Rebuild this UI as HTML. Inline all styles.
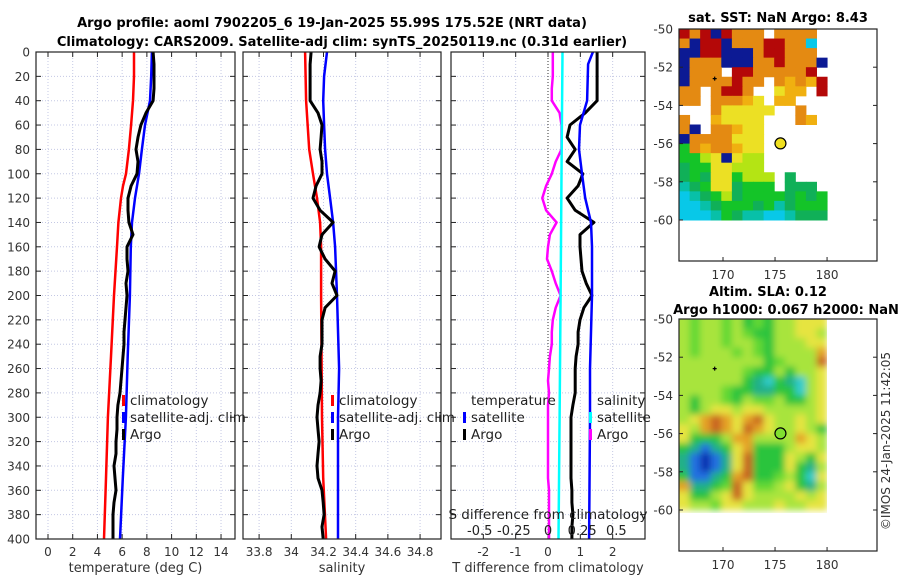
<!DOCTYPE html>
<html><head><meta charset="utf-8"><style>
html,body{margin:0;padding:0;background:#fff;}
svg{display:block;font-family:"DejaVu Sans","Liberation Sans",sans-serif;}
</style></head><body>
<svg id="fig" width="900" height="580" viewBox="0 0 900 580" xmlns="http://www.w3.org/2000/svg">
<defs>
<filter id="soft" x="-5%" y="-5%" width="110%" height="110%"><feGaussianBlur stdDeviation="3.5"/></filter>
<clipPath id="slaclip"><rect x="679" y="319" width="148" height="194"/></clipPath>
</defs>
<text x="332" y="27" font-size="13" font-weight="bold" text-anchor="middle">Argo profile: aoml 7902205_6 19-Jan-2025 55.99S 175.52E (NRT data)</text>
<text x="342" y="46" font-size="13" font-weight="bold" text-anchor="middle">Climatology: CARS2009. Satellite-adj clim: synTS_20250119.nc (0.31d earlier)</text>
<text x="778" y="22" font-size="13" font-weight="bold" text-anchor="middle">sat. SST: NaN Argo: 8.43</text>
<text x="768" y="296" font-size="13" font-weight="bold" text-anchor="middle">Altim. SLA: 0.12</text>
<text x="786" y="314" font-size="13" font-weight="bold" text-anchor="middle">Argo h1000: 0.067 h2000: NaN</text>
<text transform="translate(890,441) rotate(-90)" font-size="12" fill="#333" text-anchor="middle">©IMOS 24-Jan-2025 11:42:05</text>
</svg>
<script>
// ---------- data ----------
const climDepth = [0,20,40,60,80,100,110,120,140,160,200,250,300,350,400];
const climTemp = [6.96,6.96,6.88,6.72,6.55,6.31,6.07,5.91,5.7,5.58,5.34,5.1,4.85,4.69,4.53];
const satTemp = [8.41,8.35,8.25,7.85,7.6,7.36,7.2,7.04,6.8,6.7,6.63,6.45,6.3,6.05,5.83];
const argoDepth = [0,10,20,30,40,50,60,70,80,90,100,110,120,130,140,150,160,170,180,190,200,210,220,230,240,250,260,270,280,290,300,310,320,330,340,350,360,370,380,390,400];
const argoTemp = [8.5,8.58,8.58,8.58,8.5,7.93,7.52,7.28,7.12,7.28,7.2,6.72,6.47,6.47,6.55,6.88,6.39,6.39,6.47,6.31,6.39,6.31,6.23,6.15,6.15,6.07,5.99,5.91,5.83,5.66,5.58,5.58,5.5,5.5,5.34,5.42,5.5,5.34,5.26,5.26,5.26];
const climSalDepth = [0,40,80,100,120,140,160,200,300,350,400];
const climSal = [34.086,34.092,34.111,34.135,34.16,34.179,34.185,34.185,34.191,34.198,34.216];
const satSalDepth = [0,20,40,60,80,100,120,140,160,200,260,300,400];
const satSal = [34.222,34.204,34.198,34.204,34.21,34.222,34.241,34.26,34.272,34.284,34.297,34.29,34.29];
const argoSal = [34.123,34.117,34.117,34.117,34.117,34.166,34.191,34.185,34.179,34.191,34.191,34.154,34.135,34.179,34.26,34.191,34.173,34.21,34.272,34.253,34.284,34.21,34.191,34.191,34.191,34.179,34.179,34.185,34.179,34.166,34.16,34.166,34.173,34.166,34.16,34.166,34.191,34.198,34.204,34.191,34.198];
const satTDiffDepth = [0,10,40,60,80,100,120,140,160,200,260,300,400];
const satTDiff = [1.39,1.24,1.21,0.99,0.96,1.05,1.15,1.33,1.36,1.36,1.3,1.3,1.27];
const argoTDiff = [1.52,1.52,1.52,1.52,1.52,1.15,0.68,0.59,0.84,0.59,1.08,0.93,0.59,0.84,1.42,0.99,0.99,1.02,1.05,1.18,1.36,1.11,0.99,0.93,0.93,0.87,0.84,0.84,0.84,0.77,0.71,0.71,0.71,0.71,0.71,0.71,0.74,0.74,0.77,0.74,0.74];
const argoSDiff = [0.035,0.035,0.035,0.028,0.028,0.085,0.099,0.099,0.099,0.056,0.028,-0.014,-0.042,-0.014,0.063,0.014,0,-0.007,0.028,0.056,0.092,0.056,0.035,0.028,0.028,0.014,0.007,0,0.007,0,0,0,0,0,0,0,0.007,0.007,0.007,0.007,0.007];
const satSDiffDepth = [0,100,200,300,400];
const satSDiff = [0.106,0.099,0.092,0.085,0.077];
const depthTicks = [0,20,40,60,80,100,120,140,160,180,200,220,240,260,280,300,320,340,360,380,400];
const tempTicks = [0,2,4,6,8,10,12,14];
const salTicks = [33.8,34,34.2,34.4,34.6,34.8];
const salTickLabels = ["33.8","34","34.2","34.4","34.6","34.8"];
const tdTicks = [-2,-1,0,1,2];
const sdTicks = [-0.5,-0.25,0,0.25,0.5];
const sdTickLabels = ["-0.5","-0.25","0","0.25","0.5"];
const lonTicks = [170,175,180];
const latTicks = [-50,-52,-54,-56,-58,-60];
const argoLon = 175.52, argoLat = -55.99;
const sstGrid = [
"RORBROOO.OOOO.","OBRRBOOORROOC.","BBRRBBBORROOO.","BOOOBBBOOROOOB","BOOO.RROOOOOR.",
"BOOOOROO.OoOoR","OO.ORRO..Yoo.R","OO.OOOoY.oo...","...OYYYYY..O..","O..oYYYY...Oo.",
"OB.OOoYY......","BOOOOYYY......","GOoOOoYY......","GGLYBYLL......","gGGYYLLL......",
"gGgYYGLLL.g...","TgGYYgGGG.ggg.","CTgGLgGGGGgGgG","CCTgGGGgGTgGGG","CCCTGgTTCCTggg"];
const slaGrid = [
"lgllglGgGllyyy","lgllglgGGllyyl","lgllgllgGlllyy","lglllglgGllllO","llllllllGglllR",
"llllllgGGlGlly","llllllGTCGTCly","llllgGGTTGGCly","lGllgGlgglGGly","lGlyylyyllllly",
"lyOROyORyllyly","ylOROyROyllylG","yGGGlOOllllOyl","GTBTGyOGGGlyyl","TBNBTyRGGGylGy",
"TBNBTyRGGGyGTl","GBBTGORGGglGCy","OTTGgRygglyGTl","yGGlyRyllllyly","yllgyylllyllyy"];
const sstColors = {R:"#b40808",O:"#e48a12",o:"#f0b010",Y:"#ece024",L:"#b4e414",G:"#14c428",g:"#10b058",T:"#08c0a8",C:"#08c8e8",B:"#0c1a94"};
const slaColors = {l:"#a8e43c",y:"#e6e440",g:"#64d834",G:"#2cc43c",T:"#20b088",C:"#30cccc",B:"#2070e0",N:"#1030b0",O:"#e4a028",R:"#c86424"};

// ---------- helpers ----------
const NS="http://www.w3.org/2000/svg";
const svg=document.getElementById('fig');
function mk(tag,attrs,parent){const e=document.createElementNS(NS,tag);for(const k in attrs)e.setAttribute(k,attrs[k]);(parent||svg).appendChild(e);return e;}
function lin(d0,d1,r0,r1){return v=>r0+(v-d0)*(r1-r0)/(d1-d0);}
const Y=lin(0,400,52,539);
const FS=12;

function panel(name,x0,x1,dom,ticks,labels,xlabel,showY){
  const X=lin(dom[0],dom[1],x0,x1);
  const g=mk('g',{});
  
  
  ticks.forEach(t=>{const l=mk('line',{x1:X(t),x2:X(t),y1:52,y2:539,stroke:'#c4c8e4','stroke-width':1,'stroke-dasharray':'1,2'},g);
    });
  depthTicks.forEach(d=>{const l=mk('line',{x1:x0,x2:x1,y1:Y(d),y2:Y(d),stroke:'#c4c8e4','stroke-width':1,'stroke-dasharray':'1,2'},g);
    });
  ticks.forEach((t,i)=>{
    mk('line',{x1:X(t),x2:X(t),y1:539,y2:534,stroke:'#222'},g);
    mk('line',{x1:X(t),x2:X(t),y1:52,y2:57,stroke:'#222'},g);
    const tx=mk('text',{x:X(t),y:556,'font-size':FS,'text-anchor':'middle',fill:'#333'},g);
    
    tx.textContent=labels[i];});
  depthTicks.forEach(d=>{
    mk('line',{x1:x0,x2:x0+5,y1:Y(d),y2:Y(d),stroke:'#222'},g);
    mk('line',{x1:x1,x2:x1-5,y1:Y(d),y2:Y(d),stroke:'#222'},g);
    if(showY){const tx=mk('text',{x:30,y:Y(d)+4.5,'font-size':FS,'text-anchor':'end',fill:'#333'},g);
      
      tx.textContent=d;}});
  const xl=mk('text',{x:(x0+x1)/2,y:572,'font-size':13,'text-anchor':'middle',fill:'#333'},g);
  
  xl.textContent=xlabel;
  return {X,g,x0,x1};
}
function line(p,xs,ds,color,w,name){
  const pts=xs.map((v,i)=>p.X(v).toFixed(1)+','+Y(ds[i]).toFixed(1)).join(' ');
  const pl=mk('polyline',{points:pts,fill:'none',stroke:color,'stroke-width':w,'stroke-linejoin':'round'},p.g);
  
}
function frame(p){mk('rect',{x:p.x0,y:52,width:p.x1-p.x0,height:487,fill:'none',stroke:'#222','stroke-width':1.2},p.g);}
function legend(p,x,items,header){
  let y=400;
  if(header){const h=mk('text',{x:x+8,y:y+5,'font-size':13.5,fill:'#222'},p.g);h.textContent=header;
    y+=17;}
  items.forEach(it=>{
    const r=mk('rect',{x:x,y:y-5,width:3,height:11,fill:it[1]},p.g);
    
    const t=mk('text',{x:x+8,y:y+5,'font-size':13.5,fill:'#222'},p.g);t.textContent=it[0];
    
    y+=17;});
}

// Panel 1 temperature
const p1=panel('temperature-panel',36,235,[-0.97,15.13],tempTicks,tempTicks.map(String),'temperature (deg C)',true);
line(p1,climTemp,climDepth,'#ff0000',2.5,'temp-climatology-line');
line(p1,satTemp,climDepth,'#0000ff',2.5,'temp-satellite-line');
line(p1,argoTemp,argoDepth,'#000',3,'temp-argo-line');
legend(p1,122,[['climatology','#ff0000'],['satellite-adj. clim','#0000ff'],['Argo','#000']]);
frame(p1);

// Panel 2 salinity
const p2=panel('salinity-panel',243,441,[33.7,34.93],salTicks,salTickLabels,'salinity',false);
line(p2,climSal,climSalDepth,'#ff0000',2.5,'sal-climatology-line');
line(p2,satSal,satSalDepth,'#0000ff',2.5,'sal-satellite-line');
line(p2,argoSal,argoDepth,'#000',3,'sal-argo-line');
legend(p2,331,[['climatology','#ff0000'],['satellite-adj. clim','#0000ff'],['Argo','#000']]);
frame(p2);

// Panel 3 differences
const p3=panel('difference-panel',451,645,[-3,3],tdTicks,tdTicks.map(String),'T difference from climatology',false);
const SX=lin(-0.71,0.71,451,645);
const pS={X:SX,g:p3.g};
mk('line',{x1:p3.X(0),x2:p3.X(0),y1:52,y2:539,stroke:'#333','stroke-dasharray':'1,2'},p3.g);
line(pS,argoSDiff,argoDepth,'#ff00ff',2.5,'s-diff-argo-line');
line(pS,satSDiff,satSDiffDepth,'#00ffff',2.5,'s-diff-satellite-line');
line(p3,argoTDiff,argoDepth,'#000',3,'t-diff-argo-line');
line(p3,satTDiff,satTDiffDepth,'#0000ff',2.5,'t-diff-satellite-line');
legend(p3,463,[['satellite','#0000ff'],['Argo','#000']],'temperature');
legend(p3,589,[['satellite','#00ffff'],['Argo','#ff00ff']],'salinity');
const sdt=mk('text',{x:548,y:519,'font-size':13.5,'text-anchor':'middle',fill:'#222'},p3.g);

sdt.textContent='S difference from climatology';
sdTicks.forEach((t,i)=>{const tx=mk('text',{x:SX(t),y:535,'font-size':13,'text-anchor':'middle',fill:'#222'},p3.g);
  
  tx.textContent=sdTickLabels[i];});
frame(p3);

// ---------- maps ----------
function map(name,top,grid,colors,dotFill,smooth){
  const bottom=top+232;
  const LX=lin(165.77,184.8,679,877), LY=lin(-50,-60,top,top+191);
  const g=mk('g',{});
  
  let cells=g;
  if(smooth){const cg=mk('g',{'clip-path':'url(#slaclip)'},g);cells=mk('g',{filter:'url(#soft)'},cg);}
  const nc=grid[0].length, nr=grid.length;
  const cw=(180-165.77)/nc, rh=10/nr;
  grid.forEach((row,j)=>{for(let i=0;i<nc;i++){const c=row[i];if(c==='.')continue;
    const x=LX(165.77+i*cw), y=LY(-50-j*rh);
    let w=LX(165.77+(i+1)*cw)-x+0.5, h=LY(-50-(j+1)*rh)-y+0.5;
    let xx=x, yy=y;
    if(smooth){ if(i===0){xx-=6;w+=6;} if(i===nc-1){w+=0;} if(j===0){yy-=6;h+=6;} if(j===nr-1){h+=0;} }
    const r=mk('rect',{x:xx.toFixed(2),y:yy.toFixed(2),width:w.toFixed(2),height:h.toFixed(2),fill:colors[c]},cells);
    }});
  mk('rect',{x:679,y:top,width:198,height:bottom-top,fill:'none',stroke:'#222','stroke-width':1.2},g);
  lonTicks.forEach(t=>{mk('line',{x1:LX(t),x2:LX(t),y1:bottom,y2:bottom-4,stroke:'#222'},g);
    const tx=mk('text',{x:LX(t),y:bottom+18,'font-size':FS,'text-anchor':'middle',fill:'#333'},g);
    tx.textContent=t;});
  latTicks.forEach(t=>{mk('line',{x1:877,x2:873,y1:LY(t),y2:LY(t),stroke:'#222'},g);
    mk('line',{x1:679,x2:683,y1:LY(t),y2:LY(t),stroke:'#222'},g);
    const tx=mk('text',{x:673,y:LY(t)+4.5,'font-size':FS,'text-anchor':'end',fill:'#333'},g);
    tx.textContent=t;});
  const c=mk('circle',{cx:LX(argoLon),cy:LY(argoLat),r:5.5,fill:dotFill,stroke:'#000','stroke-width':1.2},g);
  
  const px=LX(169.2),py=LY(-52.6);
  mk('path',{d:`M${px-2},${py}H${px+2}M${px},${py-2}V${py+2}`,stroke:'#000','stroke-width':1.2},g);
}
map('sst-map',29,sstGrid,sstColors,'#f0e020',false);
map('sla-map',319,slaGrid,slaColors,'#80e030',true);
</script>
</body></html>
